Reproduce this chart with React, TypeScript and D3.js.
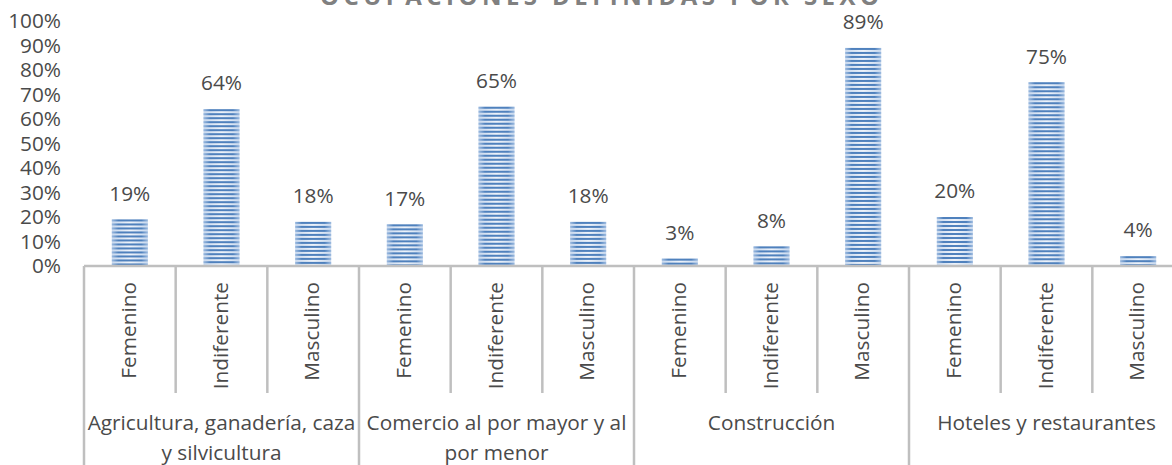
import React from "react";
import * as d3 from "d3";

const groups = [
  "Agricultura, ganadería, caza y silvicultura",
  "Comercio al por mayor y al por menor",
  "Construcción",
  "Hoteles y restaurantes",
];
const groupLines = [
  ["Agricultura, ganadería, caza", "y silvicultura"],
  ["Comercio al por mayor y al", "por menor"],
  ["Construcción"],
  ["Hoteles y restaurantes"],
];
const sexes = ["Femenino", "Indiferente", "Masculino"];
const femenino = [0.19, 0.17, 0.03, 0.2];
const indiferente = [0.64, 0.65, 0.08, 0.75];
const masculino = [0.18, 0.18, 0.89, 0.04];
const yTicks = [0, 0.1, 0.2, 0.3, 0.4, 0.5, 0.6, 0.7, 0.8, 0.9, 1];
const title = "OCUPACIONES DEFINIDAS POR SEXO";

const W = 1172;
const H = 465;
const FONT = "'Open Sans', sans-serif";
const TXT = "#4a4a4a";
const LINE = "#bfbfbf";
const FS = 20.8;

export default function App() {
  const series = [femenino, indiferente, masculino];
  const x0 = d3.scaleBand<string>().domain(groups).range([84, 1184]).padding(0);
  const x1 = d3
    .scaleBand<string>()
    .domain(sexes)
    .range([0, x0.bandwidth()])
    .paddingInner(0.607)
    .paddingOuter(0.3035);
  const y = d3.scaleLinear().domain([0, 1]).range([266, 21]);
  const fmt = d3.format(".0%");
  const subStep = x0.bandwidth() / sexes.length;
  const baseY = y(0);

  return (
    <svg
      width={W}
      height={H}
      style={{ position: "absolute", left: 0, top: 0, background: "#fff" }}
      fontFamily={FONT}
    >
      <defs>
        <linearGradient id="darkG" x1="0" x2="1" y1="0" y2="0">
          <stop offset="0" stopColor="#9dbbe0" />
          <stop offset="0.18" stopColor="#4f81bd" />
          <stop offset="0.82" stopColor="#4f81bd" />
          <stop offset="1" stopColor="#9dbbe0" />
        </linearGradient>
        <linearGradient id="lightG" x1="0" x2="1" y1="0" y2="0">
          <stop offset="0" stopColor="#c9d9ee" />
          <stop offset="0.5" stopColor="#eef3fa" />
          <stop offset="1" stopColor="#c9d9ee" />
        </linearGradient>
      </defs>
      <rect x={0} y={0} width={W} height={H} fill="#fff" />
      <text
        x={320}
        y={5}
        fontSize={24}
        fontWeight={700}
        fill="#808080"
        textLength={559}
        lengthAdjust="spacing"
      >
        {title}
      </text>

      {yTicks.map((t) => (
        <text
          key={t}
          x={61}
          y={y(t)}
          dy="0.35em"
          textAnchor="end"
          fontSize={FS}
          fill={TXT}
        >
          {fmt(t)}
        </text>
      ))}

      {groups.map((g, gi) =>
        sexes.map((s, si) => {
          const v = series[si][gi];
          const bx = (x0(g) as number) + (x1(s) as number);
          const bw = x1.bandwidth();
          const top = y(v);
          const h = baseY - top;
          const n = Math.ceil(h / 4);
          const stripes = [];
          for (let k = 0; k < n; k++) {
            const sy = top + k * 4;
            const sh = Math.min(2, baseY - sy);
            if (sh > 0)
              stripes.push(
                <rect key={k} x={bx} y={sy} width={bw} height={sh} fill="url(#darkG)" />
              );
          }
          return (
            <g key={g + s}>
              <rect x={bx} y={top} width={bw} height={h} fill="url(#lightG)" />
              {stripes}
              <text
                x={bx + bw / 2}
                y={top - 26}
                dy="0.35em"
                textAnchor="middle"
                fontSize={FS}
                fill={TXT}
              >
                {fmt(v)}
              </text>
            </g>
          );
        })
      )}

      <line x1={84} x2={W} y1={baseY} y2={baseY} stroke={LINE} strokeWidth={2.5} />

      {groups.map((g, gi) => {
        const gx = x0(g) as number;
        return (
          <g key={g}>
            <line x1={gx} x2={gx} y1={baseY} y2={H} stroke={LINE} strokeWidth={2.5} />
            {[1, 2].map((k) => (
              <line
                key={k}
                x1={gx + k * subStep}
                x2={gx + k * subStep}
                y1={baseY}
                y2={393}
                stroke={LINE}
                strokeWidth={2.5}
              />
            ))}
            {sexes.map((s, si) => (
              <text
                key={s}
                transform={`translate(${gx + (si + 0.5) * subStep + 6},282) rotate(-90)`}
                textAnchor="end"
                fontSize={FS}
                fill={TXT}
              >
                {s}
              </text>
            ))}
            {groupLines[gi].map((ln, li) => (
              <text
                key={li}
                x={gx + x0.bandwidth() / 2}
                y={423 + li * 30}
                dy="0.35em"
                textAnchor="middle"
                fontSize={FS}
                fill={TXT}
              >
                {ln}
              </text>
            ))}
          </g>
        );
      })}
      <line x1={1184} x2={1184} y1={baseY} y2={H} stroke={LINE} strokeWidth={2.5} />
    </svg>
  );
}
